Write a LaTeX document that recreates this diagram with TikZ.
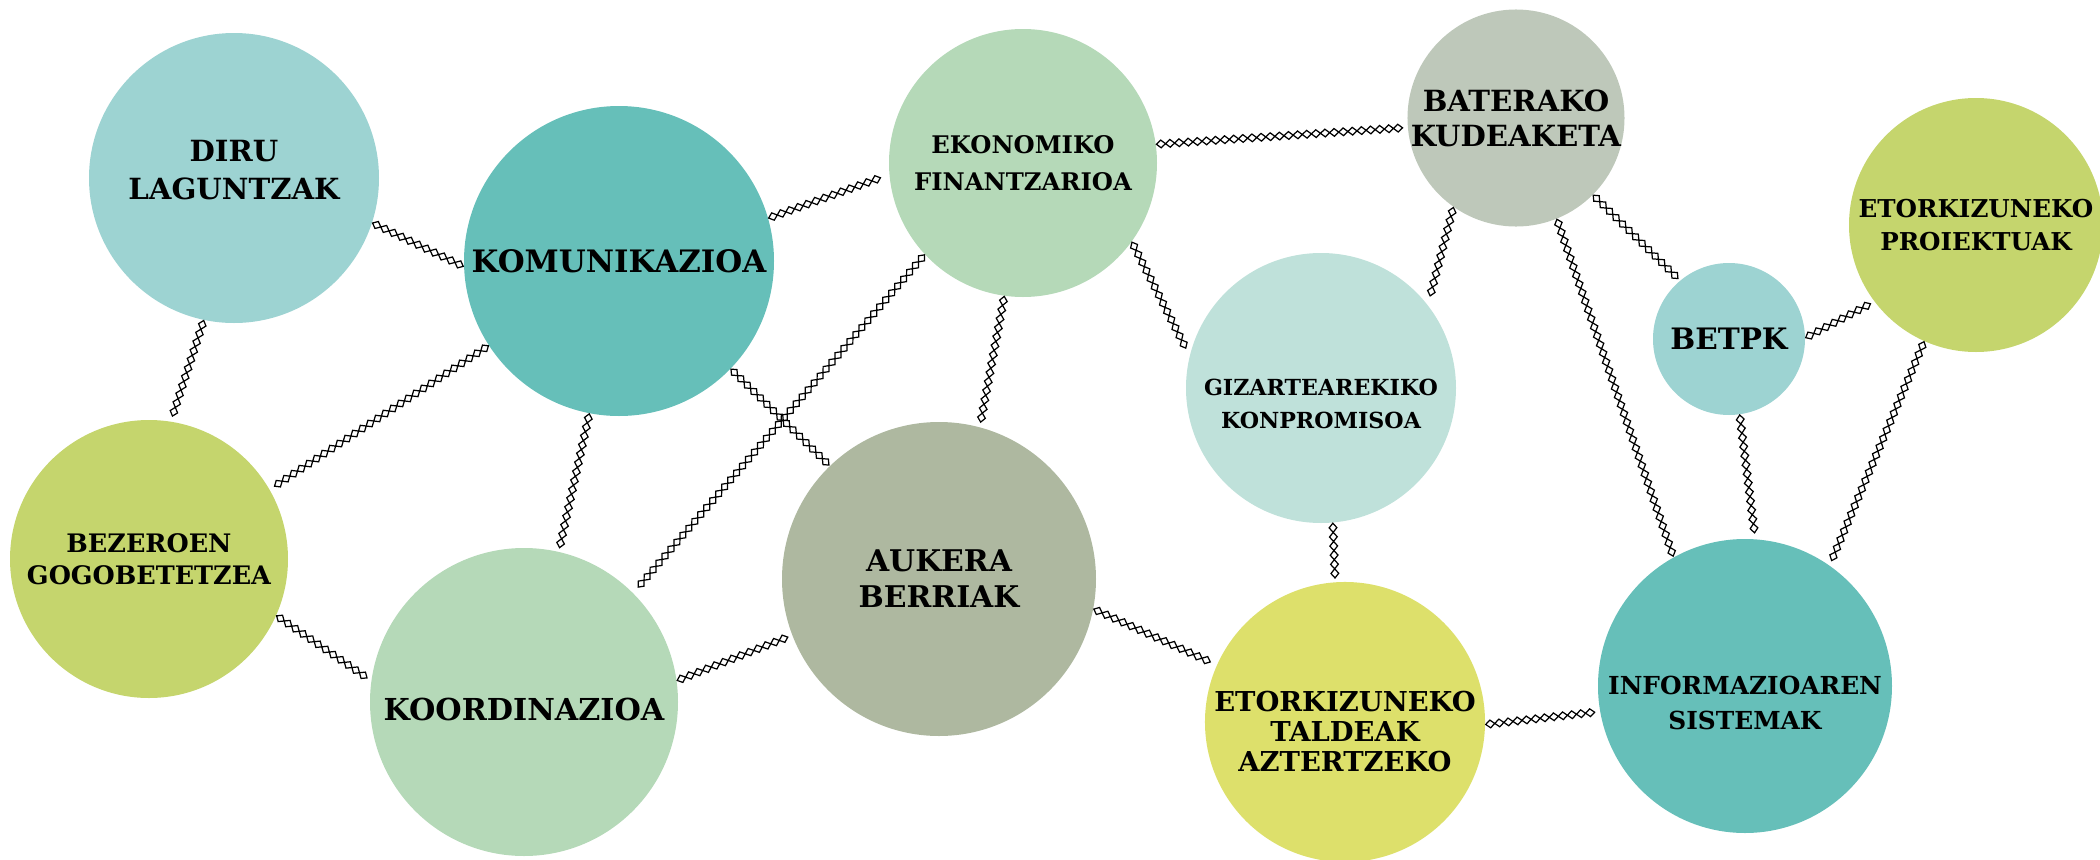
\documentclass[tikz,border=0pt]{standalone}
\usepackage{fontspec}
\setmainfont{DejaVu Serif}
\usepackage{tikz}
\usetikzlibrary{decorations.markings}
\usepackage{xcolor}
\definecolor{tealpale}{HTML}{9DD3D2}
\definecolor{tealdeep}{HTML}{66BFB9}
\definecolor{mint}{HTML}{B5D9B8}
\definecolor{sage}{HTML}{BEC8BA}
\definecolor{lime}{HTML}{C5D56D}
\definecolor{aqua}{HTML}{BFE1DA}
\definecolor{olive}{HTML}{AEB8A0}
\definecolor{lemon}{HTML}{DDE06B}
\newcommand{\txtsz}[2]{\fontsize{#1}{#2}\selectfont\bfseries}
\newcommand{\pushdn}[1]{\rule{0pt}{#1}}
\newcommand{\pushup}[1]{\rule[-#1]{0pt}{#1}}

\begin{document}
\begin{tikzpicture}[
  bubble/.style={circle, inner sep=0pt, align=center},
  chain/.style={decoration={markings,
      mark=between positions 1.3pt and -1.3pt step 2.6pt with
        {\draw[line width=0.35pt] (-1.3pt,0) -- (0,1.1pt) -- (1.3pt,0) -- (0,-1.1pt) -- cycle;}},
    decorate}
]
\useasboundingbox (0,0) rectangle (21,8.59);

% Top row
\node[bubble, fill=tealpale, minimum size=2.9cm, font=\txtsz{8.3}{10.6}] (diru) at (2.34,6.81) {DIRU\\LAGUNTZAK\pushup{4.6pt}};
\node[bubble, fill=tealdeep, minimum size=3.1cm, font=\txtsz{8.8}{11}] (komu) at (6.19,5.98) {KOMUNIKAZIOA};
\node[bubble, fill=mint, minimum size=2.68cm, font=\txtsz{6.9}{10.6}] (eko) at (10.23,6.96) {EKONOMIKO\\FINANTZARIOA};
\node[bubble, fill=sage, minimum size=2.14cm, font=\txtsz{8.3}{9.9}] (bat) at (15.16,7.41) {BATERAKO\\KUDEAKETA};
\node[bubble, fill=lime, minimum size=2.54cm, font=\txtsz{7}{9.5}] (pro) at (19.76,6.34) {ETORKIZUNEKO\\PROIEKTUAK};

% Middle
\node[bubble, fill=tealpale, minimum size=1.52cm, font=\txtsz{8.4}{10}] (betpk) at (17.29,5.20) {BETPK};
\node[bubble, fill=aqua, minimum size=2.7cm, font=\txtsz{6.3}{9.5}] (giz) at (13.21,4.71) {\pushdn{13.7pt}GIZARTEAREKIKO\\KONPROMISOA};

% Bottom row
\node[bubble, fill=lime, minimum size=2.78cm, font=\txtsz{7.25}{9.1}] (bez) at (1.49,3.00) {BEZEROEN\\GOGOBETETZEA};
\node[bubble, fill=mint, minimum size=3.08cm, font=\txtsz{8.6}{10}] (koor) at (5.24,1.57) {\pushdn{10.9pt}KOORDINAZIOA};
\node[bubble, fill=olive, minimum size=3.14cm, font=\txtsz{8.5}{10.2}] (auk) at (9.39,2.80) {AUKERA\\BERRIAK};
\node[bubble, fill=lemon, minimum size=2.76cm, font=\txtsz{7.8}{8.6}] (tal) at (13.45,1.37) {\pushdn{11.2pt}ETORKIZUNEKO\\TALDEAK\\AZTERTZEKO};
\node[bubble, fill=tealdeep, minimum size=2.94cm, font=\txtsz{7.06}{9.9}] (inf) at (17.45,1.73) {\pushdn{15pt}INFORMAZIOAREN\\SISTEMAK};

% Connectors
\draw[chain] (diru.-18) -- (komu.182);
\draw[chain] (diru.-102) -- (bez.81);
\draw[chain] (komu.16) -- (eko.185);
\draw[chain] (komu.213) -- (bez.30);
\draw[chain] (komu.259) -- (koor.77);
\draw[chain] (komu.-44) -- (auk.134);
\draw[chain] (eko.223) -- (koor.45);
\draw[chain] (eko.262) -- (auk.75);
\draw[chain] (eko.-36) -- (giz.166);
\draw[chain] (eko.8) -- (bat.185);
\draw[chain] (bat.235) -- (giz.38);
\draw[chain] (bat.-45) -- (betpk.130);
\draw[chain] (bat.-68) -- (inf.119);
\draw[chain] (betpk.1) -- (pro.217);
\draw[chain] (betpk.-82) -- (inf.86);
\draw[chain] (pro.246) -- (inf.55);
\draw[chain] (giz.-85) -- (tal.94);
\draw[chain] (auk.-11) -- (tal.156);
\draw[chain] (bez.-24) -- (koor.172);
\draw[chain] (koor.8) -- (auk.201);
\draw[chain] (tal.-1) -- (inf.190);
\end{tikzpicture}
\end{document}
